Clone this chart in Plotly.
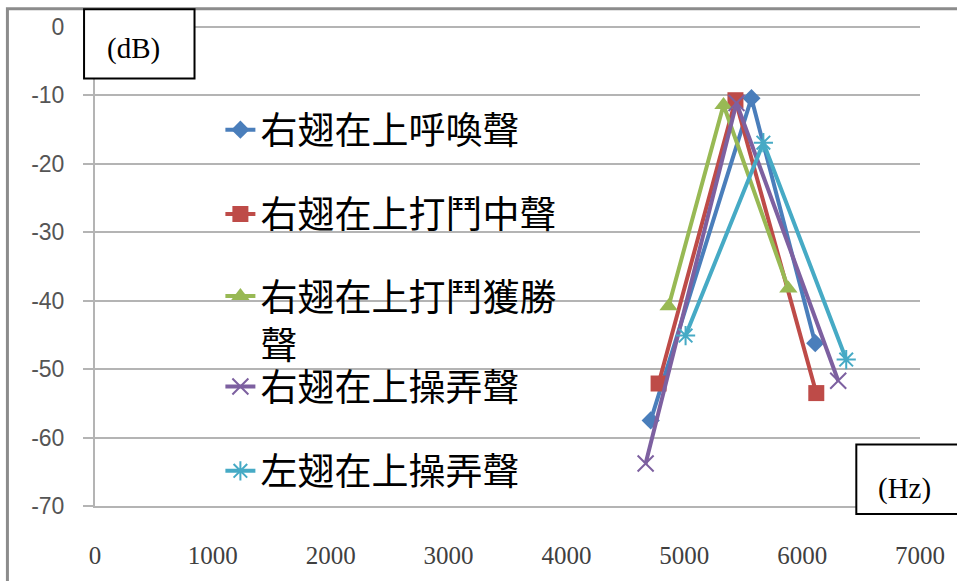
import plotly.graph_objects as go

# ---------------- data ----------------
names = ["右翅在上呼喚聲", "右翅在上打鬥中聲", "右翅在上打鬥獲勝<br>聲", "右翅在上操弄聲", "左翅在上操弄聲"]

freq_1 = [4715, 5570, 6111]
db_1 = [-57.5, -10.4, -46.2]

freq_2 = [4782, 5434, 6120]
db_2 = [-52.1, -10.7, -53.5]

freq_3 = [4867, 5333, 5883]
db_3 = [-40.8, -11.4, -38.2]

freq_4 = [4672, 5443, 6306]
db_4 = [-63.8, -11.1, -51.7]

freq_5 = [5011, 5671, 6374]
db_5 = [-45.1, -16.9, -48.6]

x_ticks = [0, 1000, 2000, 3000, 4000, 5000, 6000, 7000]
y_ticks = [0, -10, -20, -30, -40, -50, -60, -70]

# ---------------- styling ----------------
W, H = 957, 581
L, R, T, B = 95, 924, 27, 510    # plot area in pixels


def px(xp):
    return (xp - L) / (R - L)


def py(yp):
    return (B - yp) / (B - T)


colors = ["#4A7EBB", "#BE4B48", "#98B954", "#7D60A0", "#46AAC5"]
symbols = ["diamond", "square", "triangle-up", "x-thin-open", "asterisk-open"]
sizes = [14, 16, 16, 16, 16]
marker_line_colors = [None, None, None, "#B3A2C7", "#93CDDD"]

series = [(freq_1, db_1), (freq_2, db_2), (freq_3, db_3), (freq_4, db_4), (freq_5, db_5)]
legend_ids = ["legend", "legend2", "legend3", "legend4", "legend5"]

fig = go.Figure()
for i, (xs, ys) in enumerate(series):
    marker = dict(symbol=symbols[i], size=sizes[i], color=colors[i])
    if marker_line_colors[i]:
        marker["line"] = dict(color=marker_line_colors[i], width=2)
    fig.add_trace(go.Scatter(
        x=xs, y=ys, name=names[i], mode="lines+markers",
        line=dict(color=colors[i], width=4),
        marker=marker, legend=legend_ids[i], cliponaxis=False,
    ))

legend_font = dict(family="Noto Sans CJK TC", size=37, color="#000000")
legend_centers = [131, 216, 323, 390, 475]
legend_x = px(221)
layout_legends = {}
for i, lid in enumerate(legend_ids):
    layout_legends[lid] = dict(
        x=legend_x, xanchor="left",
        y=py(legend_centers[i]), yanchor="middle",
        bgcolor="rgba(0,0,0,0)", font=legend_font,
        valign="top", itemclick=False,
    )

grid_c = "#B4B4B4"

fig.update_layout(
    width=W, height=H,
    margin=dict(l=L, r=W - R, t=T, b=H - B, pad=0),
    paper_bgcolor="white", plot_bgcolor="white",
    showlegend=True,
    **layout_legends,
    xaxis=dict(
        range=[0, 7000], tickvals=x_ticks, ticktext=[str(v) for v in x_ticks],
        showgrid=False, zeroline=False,
        showline=True, linecolor=grid_c, linewidth=2,
        ticks="", ticklabelstandoff=26,
        tickfont=dict(family="Liberation Serif", size=25, color="#404040"),
    ),
    xaxis2=dict(
        range=[0, 7000], tickvals=x_ticks, overlaying="x", side="top",
        showgrid=False, zeroline=False, showline=False,
        ticks="inside", ticklen=7, tickwidth=1.5, tickcolor=grid_c,
        showticklabels=False,
    ),
    yaxis=dict(
        range=[-70, 0], tickvals=y_ticks, ticktext=[str(v) for v in y_ticks],
        showgrid=True, gridcolor=grid_c, gridwidth=2,
        zeroline=True, zerolinecolor=grid_c, zerolinewidth=2,
        showline=True, linecolor=grid_c, linewidth=2,
        ticks="outside", ticklen=10, tickwidth=2, tickcolor=grid_c,
        ticklabelstandoff=14,
        tickfont=dict(family="Liberation Sans", size=23, color="#555555"),
    ),
    shapes=[
        # outer chart frame
        dict(type="rect", xref="paper", yref="paper",
             x0=px(7), x1=px(990), y0=py(600), y1=py(8.5),
             line=dict(color="#8C8C8C", width=3), fillcolor="rgba(0,0,0,0)", layer="below"),
        # (dB) box
        dict(type="rect", xref="paper", yref="paper",
             x0=px(84), x1=px(195), y0=py(79), y1=py(9),
             line=dict(color="#000000", width=2), fillcolor="white", layer="above"),
        # (Hz) box
        dict(type="rect", xref="paper", yref="paper",
             x0=px(860), x1=px(975), y0=py(518), y1=py(448),
             line=dict(color="#000000", width=2), fillcolor="white", layer="above"),
    ],
    annotations=[
        dict(text="(dB)", xref="paper", yref="paper", x=px(134), y=py(49),
             xanchor="center", yanchor="middle", showarrow=False,
             font=dict(family="Liberation Serif", size=29, color="#000000")),
        dict(text="(Hz)", xref="paper", yref="paper", x=px(908), y=py(492),
             xanchor="center", yanchor="middle", showarrow=False,
             font=dict(family="Liberation Serif", size=29, color="#000000")),
    ],
)

fig.write_html(
    "out.html",
    config={"displayModeBar": False},
    post_script="document.body.style.margin='0px';document.body.style.overflow='hidden';",
)
